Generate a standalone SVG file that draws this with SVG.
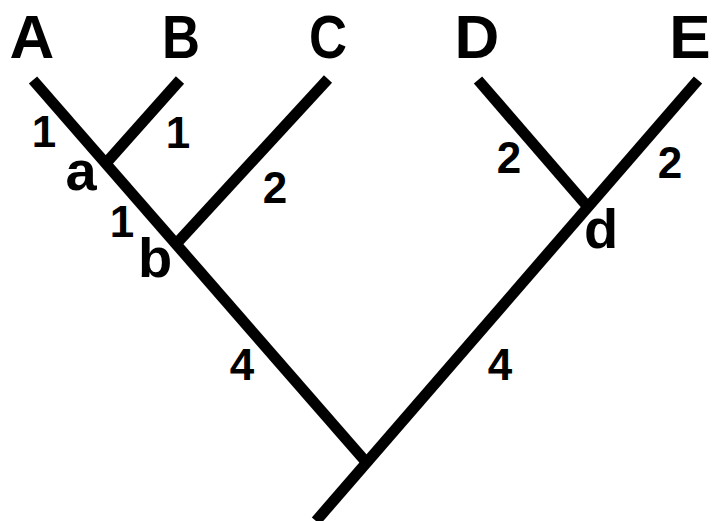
<svg xmlns="http://www.w3.org/2000/svg" width="714" height="521" viewBox="0 0 714 521">
<style>
.br{stroke:#000;stroke-width:11;stroke-linecap:butt;fill:none}
.cap{font-family:"Liberation Sans",Arial,sans-serif;font-weight:bold;font-size:62px;text-anchor:middle;fill:#000}
.lc{font-family:"Liberation Sans",Arial,sans-serif;font-weight:bold;font-size:56px;text-anchor:middle;fill:#000}
.num{font-family:"Liberation Sans",Arial,sans-serif;font-weight:bold;font-size:44px;text-anchor:middle;fill:#000}
</style>
<rect width="714" height="521" fill="#fff"/>
<g id="connectors">
<line class="br" x1="33" y1="80" x2="366" y2="462"/>
<line class="br" x1="180" y1="80" x2="107" y2="162"/>
<line class="br" x1="328" y1="79" x2="177" y2="243"/>
<line class="br" x1="478" y1="80" x2="587" y2="206"/>
<line class="br" x1="698" y1="80" x2="316" y2="521"/>
<text class="num" x="44" y="147">1</text>
<text class="num" x="178" y="148">1</text>
<text class="num" x="122" y="237">1</text>
<text class="num" x="275" y="203">2</text>
<text class="num" x="509" y="173">2</text>
<text class="num" x="670" y="178">2</text>
<text class="num" x="242" y="380">4</text>
<text class="num" x="500" y="380">4</text>
</g>
<g id="node-A"><text class="cap" x="32" y="58">A</text></g>
<g id="node-B"><text class="cap" x="181" y="58" textLength="38" lengthAdjust="spacingAndGlyphs">B</text></g>
<g id="node-C"><text class="cap" x="328" y="58" textLength="38" lengthAdjust="spacingAndGlyphs">C</text></g>
<g id="node-D"><text class="cap" x="477" y="58">D</text></g>
<g id="node-E"><text class="cap" x="690" y="58">E</text></g>
<g id="node-a"><text class="lc" x="81" y="190">a</text></g>
<g id="node-b"><text class="lc" x="155" y="277">b</text></g>
<g id="node-d"><text class="lc" x="601" y="248">d</text></g>
<g id="node-root"></g>
</svg>
